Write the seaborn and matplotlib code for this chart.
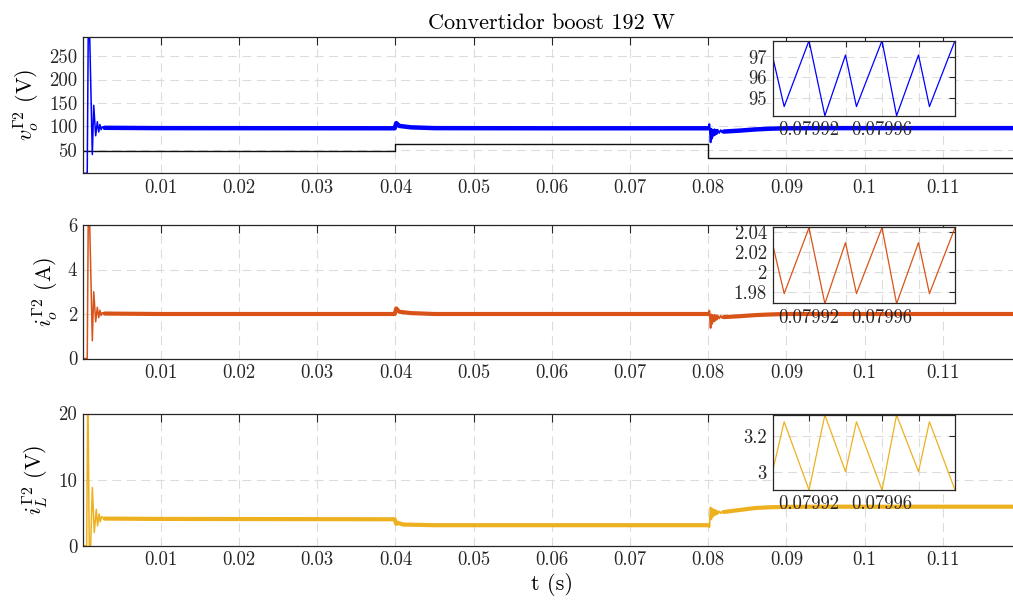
import matplotlib
matplotlib.use("Agg")
import matplotlib.pyplot as plt
import seaborn as sns

# ---------------- data ----------------
# start-up transient (thin traces)
t_start_vo = [0, 0.00058, 0.00075, 0.00123, 0.00141, 0.00166, 0.00187, 0.00205, 0.0022, 0.00235, 0.0025, 0.0028]
vo_start = [0, 0, 400, 40, 145, 80, 110, 88, 104, 93, 99, 97]
io_start = [0, 0, 8.3, 0.8, 3.0, 1.65, 2.3, 1.83, 2.17, 1.93, 2.06, 2.02]
t_start_il = [0, 0.0005, 0.00066, 0.00084, 0.00102, 0.00123, 0.00148, 0.00174, 0.0019, 0.0021, 0.00225, 0.0024, 0.0028]
il_start = [0, 0, 24, 0, 0, 8.8, 2.0, 5.5, 3.0, 4.8, 3.6, 4.4, 4.1]

# steady segments (thick traces, ripple band) 0.0028 .. 0.08
t_mid = [0.0028, 0.01, 0.0399, 0.0401, 0.0405, 0.042, 0.045, 0.06, 0.08]
vo_mid = [97, 96.3, 96, 107, 101, 98, 96.3, 96, 96]
io_mid = [2.02, 2.0, 2.0, 2.25, 2.1, 2.04, 2.0, 2.0, 2.0]
t_mid_il = [0.0028, 0.01, 0.0399, 0.0401, 0.0403, 0.041, 0.045, 0.06, 0.08]
il_mid = [4.1, 4.05, 4.0, 3.3, 3.45, 3.2, 3.1, 3.1, 3.1]

# load step at 0.08 (thin zig-zag)
t_step = [0.08, 0.08015, 0.0803, 0.0804, 0.0805, 0.0806, 0.0807, 0.0808, 0.0809, 0.081,
          0.0811, 0.0812, 0.0814, 0.0816, 0.0818, 0.082]
vo_step = [96, 105, 66, 95, 74, 93, 80, 94, 82, 93, 84, 93, 86, 92, 87, 90]
io_step = [2.0, 2.15, 1.37, 1.98, 1.55, 1.95, 1.66, 1.96, 1.7, 1.95, 1.75, 1.94, 1.8, 1.92, 1.82, 1.88]
il_step = [3.1, 2.8, 5.8, 4.0, 5.6, 4.4, 5.5, 4.6, 5.4, 4.7, 5.3, 4.8, 5.2, 4.9, 5.2, 5.0]

# recovery after 0.08 (thick)
t_end = [0.082, 0.084, 0.086, 0.088, 0.09, 0.095, 0.12]
vo_end = [89, 91, 93.5, 95.2, 96, 96.3, 96.3]
io_end = [1.86, 1.9, 1.95, 1.98, 2.0, 2.0, 2.0]
il_end = [5.1, 5.4, 5.7, 5.82, 5.88, 5.9, 5.9]

# input voltage reference (black)
t_vin = [0, 0.04, 0.04, 0.08, 0.08, 0.12]
vin = [47, 47, 62, 62, 33, 33]

# zoomed ripple (insets)
t_zoom_v = [0.0799, 0.0799064, 0.07992, 0.0799287, 0.07994, 0.079946, 0.07996, 0.079968, 0.07998, 0.079986, 0.08]
vo_zoom = [97.03, 94.6, 97.77, 94.16, 97.08, 94.6, 97.77, 94.16, 97.08, 94.6, 97.77]
io_zoom = [2.028, 1.978, 2.044, 1.968, 2.029, 1.978, 2.044, 1.968, 2.029, 1.978, 2.044]
t_zoom_il = [0.0799, 0.0799064, 0.07992, 0.0799287, 0.07994, 0.079946, 0.07996, 0.079968, 0.07998, 0.079986, 0.08]
il_zoom = [3.0, 3.28, 2.897, 3.318, 3.0, 3.28, 2.897, 3.318, 3.0, 3.28, 2.897]

xticks = [0.01, 0.02, 0.03, 0.04, 0.05, 0.06, 0.07, 0.08, 0.09, 0.1, 0.11]
xticklabels = ["0.01", "0.02", "0.03", "0.04", "0.05", "0.06", "0.07", "0.08", "0.09", "0.1", "0.11"]
zoom_xticks = [0.07992, 0.07994, 0.07996, 0.07998]
zoom_xticklabels = ["0.07992", "", "0.07996", ""]

BLUE = "#0000ff"
ORANGE = "#D95319"
YELLOW = "#EDB120"
AXC = "#262626"
GRIDC = "#dcdcdc"
TICKFS = 13.5
LABFS = 16

# ---------------- style ----------------
sns.set_theme(style="white")
plt.rcParams["font.family"] = ["cmr10", "DejaVu Serif"]
plt.rcParams["mathtext.fontset"] = "cm"
plt.rcParams["axes.formatter.use_mathtext"] = True
plt.rcParams["axes.unicode_minus"] = False

fig = plt.figure(figsize=(10.13, 6.10), dpi=100)

L = 82.7 / 1013
W = (1021 - 82.7) / 1013
ax1 = fig.add_axes([L, 1 - 173.3 / 610, W, 136 / 610])
ax2 = fig.add_axes([L, 1 - 358.5 / 610, W, 133.5 / 610])
ax3 = fig.add_axes([L, 1 - 545.7 / 610, W, 132.2 / 610])

IW = 182.5 / 1013
IL = 772.5 / 1013
in1 = fig.add_axes([IL, 1 - 115.7 / 610, IW, 75 / 610])
in2 = fig.add_axes([IL, 1 - 303.3 / 610, IW, 76 / 610])
in3 = fig.add_axes([IL, 1 - 490 / 610, IW, 75 / 610])


def style(ax, fs=TICKFS):
    ax.set_facecolor("white")
    for s in ax.spines.values():
        s.set_color(AXC)
        s.set_linewidth(0.9)
        s.set_visible(True)
    ax.tick_params(direction="in", length=6, width=0.8, top=True, right=True,
                   labelsize=fs, colors=AXC, pad=4)
    ax.grid(True, color=GRIDC, linestyle=(0, (8, 5)), linewidth=0.8)
    ax.set_axisbelow(True)
    ax.set_xlabel("")
    ax.set_ylabel("")


def line(ax, x, y, color, lw):
    sns.lineplot(x=x, y=y, ax=ax, color=color, linewidth=lw, estimator=None,
                 sort=False, legend=False)


# top panel
line(ax1, t_vin, vin, "#111111", 1.0)
line(ax1, t_start_vo, vo_start, BLUE, 1.1)
line(ax1, t_mid, vo_mid, BLUE, 3.2)
line(ax1, t_step, vo_step, BLUE, 1.3)
line(ax1, t_end, vo_end, BLUE, 3.2)
ax1.set_ylim(0, 290)
ax1.set_yticks([50, 100, 150, 200, 250])
ax1.set_yticklabels(["50", "100", "150", "200", "250"])

# middle panel
line(ax2, t_start_vo, io_start, ORANGE, 1.1)
line(ax2, t_mid, io_mid, ORANGE, 3.0)
line(ax2, t_step, io_step, ORANGE, 1.3)
line(ax2, t_end, io_end, ORANGE, 3.0)
ax2.set_ylim(0, 6)
ax2.set_yticks([0, 2, 4, 6])
ax2.set_yticklabels(["0", "2", "4", "6"])

# bottom panel
line(ax3, t_start_il, il_start, YELLOW, 1.1)
line(ax3, t_mid_il, il_mid, YELLOW, 3.0)
line(ax3, t_step, il_step, YELLOW, 1.3)
line(ax3, t_end, il_end, YELLOW, 3.0)
ax3.set_ylim(0, 20)
ax3.set_yticks([0, 10, 20])
ax3.set_yticklabels(["0", "10", "20"])

for ax in (ax1, ax2, ax3):
    style(ax)
    ax.set_xlim(0, 0.12)
    ax.set_xticks(xticks)
    ax.set_xticklabels(xticklabels)

ax1.set_ylabel(r"$v_o^{\Gamma 2}$ (V)", fontsize=LABFS, color="black", labelpad=5)
ax2.set_ylabel(r"$i_o^{\Gamma 2}$ (A)", fontsize=LABFS, color="black", labelpad=5)
ax3.set_ylabel(r"$i_L^{\Gamma 2}$ (V)", fontsize=LABFS, color="black", labelpad=5)
ax3.set_xlabel("t (s)", fontsize=LABFS, color="black", labelpad=3)
ax1.set_title("Convertidor boost 192 W", fontsize=LABFS, color="black", pad=6)

# insets
line(in1, t_zoom_v, vo_zoom, BLUE, 0.9)
line(in2, t_zoom_v, io_zoom, ORANGE, 0.9)
line(in3, t_zoom_il, il_zoom, YELLOW, 0.9)
for ax, yt, ytl, yl in (
    (in1, [95, 96, 97], ["95", "96", "97"], (94.16, 97.77)),
    (in2, [1.98, 2.0, 2.02, 2.04], ["1.98", "2", "2.02", "2.04"], (1.9683, 2.0444)),
    (in3, [3.0, 3.2], ["3", "3.2"], (2.897, 3.318)),
):
    style(ax)
    ax.tick_params(length=4)
    ax.set_xlim(0.0799, 0.08)
    ax.set_ylim(*yl)
    ax.set_xticks(zoom_xticks)
    ax.set_xticklabels(zoom_xticklabels)
    ax.set_yticks(yt)
    ax.set_yticklabels(ytl)
    ax.set_zorder(5)

fig.savefig("out.png", dpi=100)
